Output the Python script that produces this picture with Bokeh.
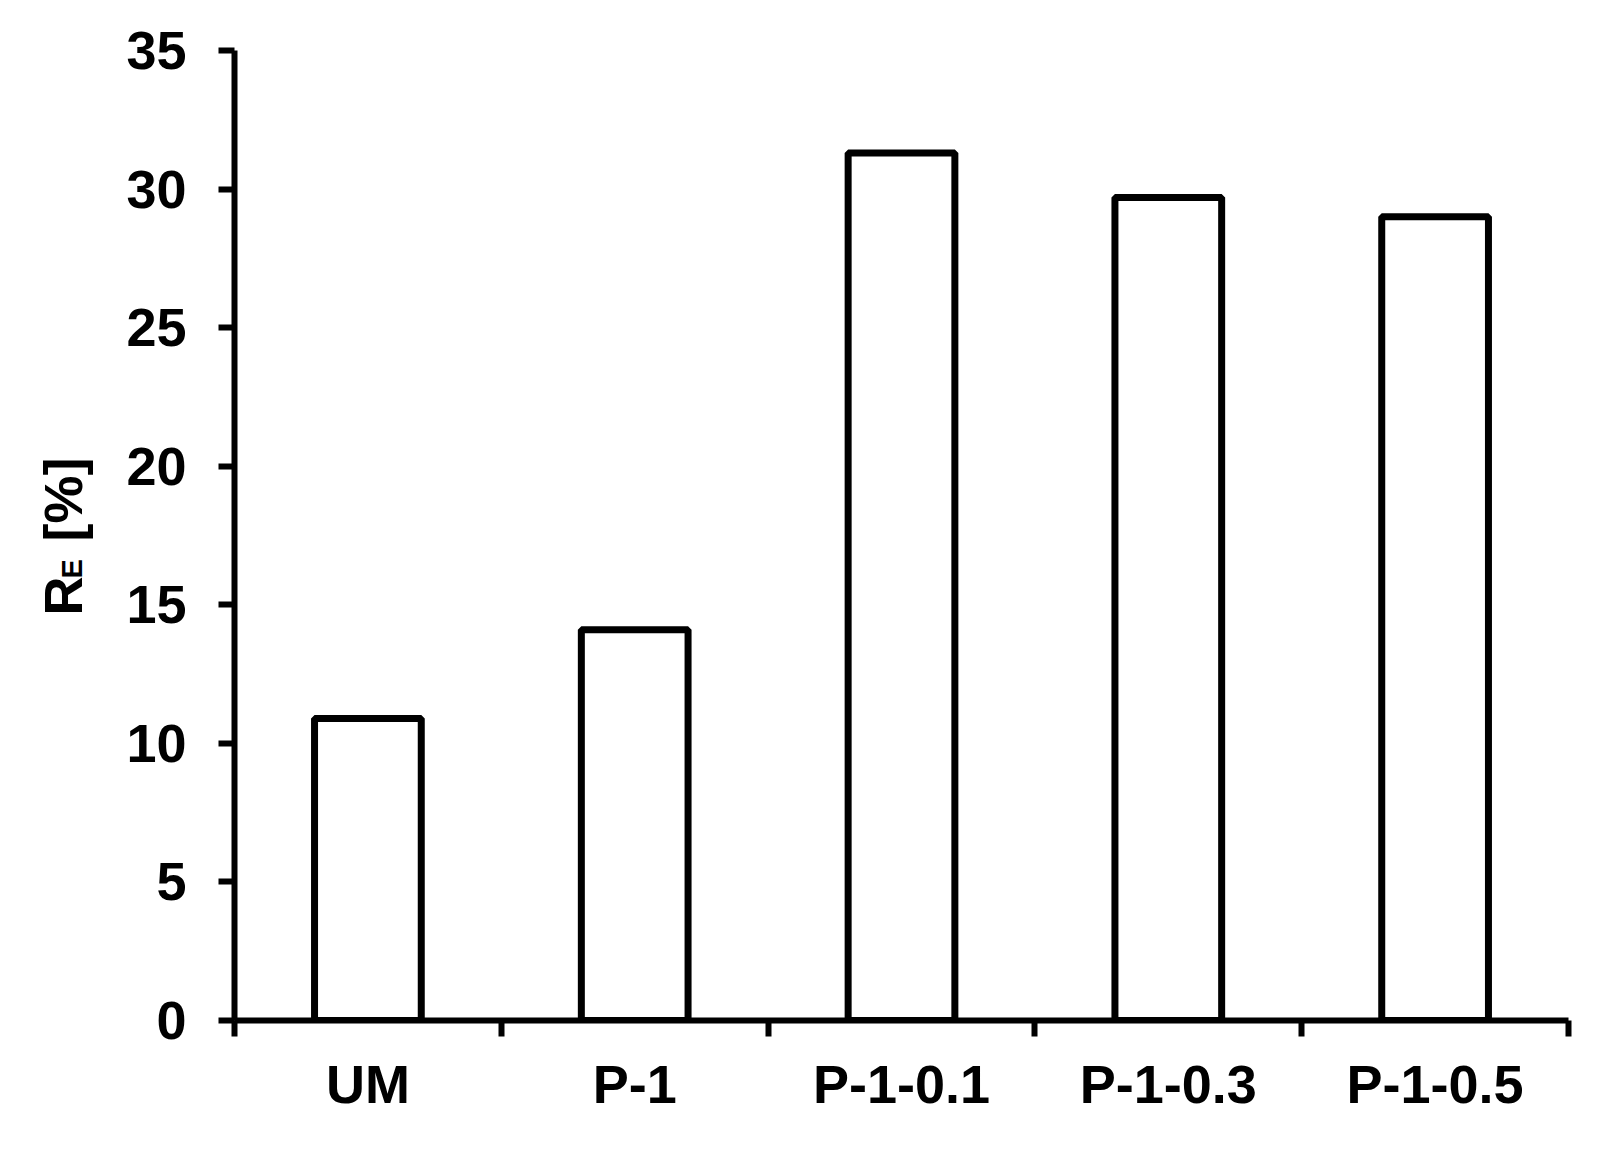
import math
from bokeh.plotting import figure
from bokeh.layouts import row
from bokeh.models import (Range1d, LinearAxis, FixedTicker, ColumnDataSource)
from bokeh.core.properties import value
from bokeh.embed import file_html
from bokeh.resources import INLINE

# ---- data ----
categories = ["UM", "P-1", "P-1-0.1", "P-1-0.3", "P-1-0.5"]
values = [10.9, 14.1, 31.3, 29.7, 29.0]
y_ticks = [0, 5, 10, 15, 20, 25, 30, 35]

FONT = "Liberation Sans"
H = 1130
LW = 120            # width of the strip holding the y-axis title
W = 1586 - LW
BL, BR, BT, BB = 234 - LW, 18, 50, 110

xpos = [i + 0.5 for i in range(len(categories))]
src = ColumnDataSource(dict(x=xpos, top=values, cat=categories))

p = figure(width=W, height=H, output_backend="svg", toolbar_location=None,
           x_range=Range1d(0, len(categories)), y_range=Range1d(0, 35),
           x_axis_location=None, y_axis_location=None,
           min_border_left=BL, min_border_right=BR,
           min_border_top=BT, min_border_bottom=BB)
p.outline_line_color = None
p.xgrid.visible = False
p.ygrid.visible = False
p.background_fill_color = "white"
p.border_fill_color = "white"

p.vbar(x="x", top="top", bottom=0, width=0.4, source=src,
       fill_color="white", line_color="black", line_width=7)

# y axis
yax = LinearAxis(ticker=FixedTicker(ticks=y_ticks, minor_ticks=[]))
yax.axis_line_width = 6
yax.axis_line_color = "black"
yax.major_tick_line_width = 6
yax.major_tick_out = 16
yax.major_tick_in = 0
yax.minor_tick_out = 0
yax.minor_tick_in = 0
yax.major_label_text_font = FONT
yax.major_label_text_font_style = "bold"
yax.major_label_text_font_size = "54px"
yax.major_label_text_color = "black"
yax.major_label_standoff = 32
p.add_layout(yax, "left")

# x axis: boundary ticks as minor ticks, category labels at centers
xax = LinearAxis(ticker=FixedTicker(ticks=xpos,
                                    minor_ticks=list(range(len(categories) + 1))))
xax.axis_line_width = 6
xax.axis_line_color = "black"
xax.major_tick_out = 0
xax.major_tick_in = 0
xax.minor_tick_out = 16
xax.minor_tick_in = 0
xax.minor_tick_line_width = 6
xax.minor_tick_line_color = "black"
xax.major_label_overrides = {x: c for x, c in zip(xpos, categories)}
xax.major_label_text_font = FONT
xax.major_label_text_font_style = "bold"
xax.major_label_text_font_size = "54px"
xax.major_label_text_color = "black"
xax.major_label_standoff = 17
p.add_layout(xax, "below")

# ---- y-axis title strip: R_E [%] ----
t = figure(width=LW, height=H, output_backend="svg", toolbar_location=None,
           x_range=Range1d(0, LW), y_range=Range1d(BB, H - BT),
           x_axis_location=None, y_axis_location=None,
           min_border_left=0, min_border_right=0, min_border_top=BT, min_border_bottom=BB)
t.outline_line_color = None
t.xgrid.visible = False
t.ygrid.visible = False
t.background_fill_color = "white"
t.border_fill_color = "white"

title_parts = [("R", 62, 615, "54px"), ("E", 71, 578, "29px"), ("[%]", 62, 541, "54px")]
for txt, px, py, size in title_parts:
    t.text(x=[px], y=[H - py], text=[txt], angle=math.pi / 2,
           text_font=value(FONT), text_font_style="bold", text_font_size=value(size),
           text_color="black", text_align="left", text_baseline="alphabetic")

layout = row(t, p, spacing=0)
open("out.html", "w").write(file_html(layout, INLINE))
